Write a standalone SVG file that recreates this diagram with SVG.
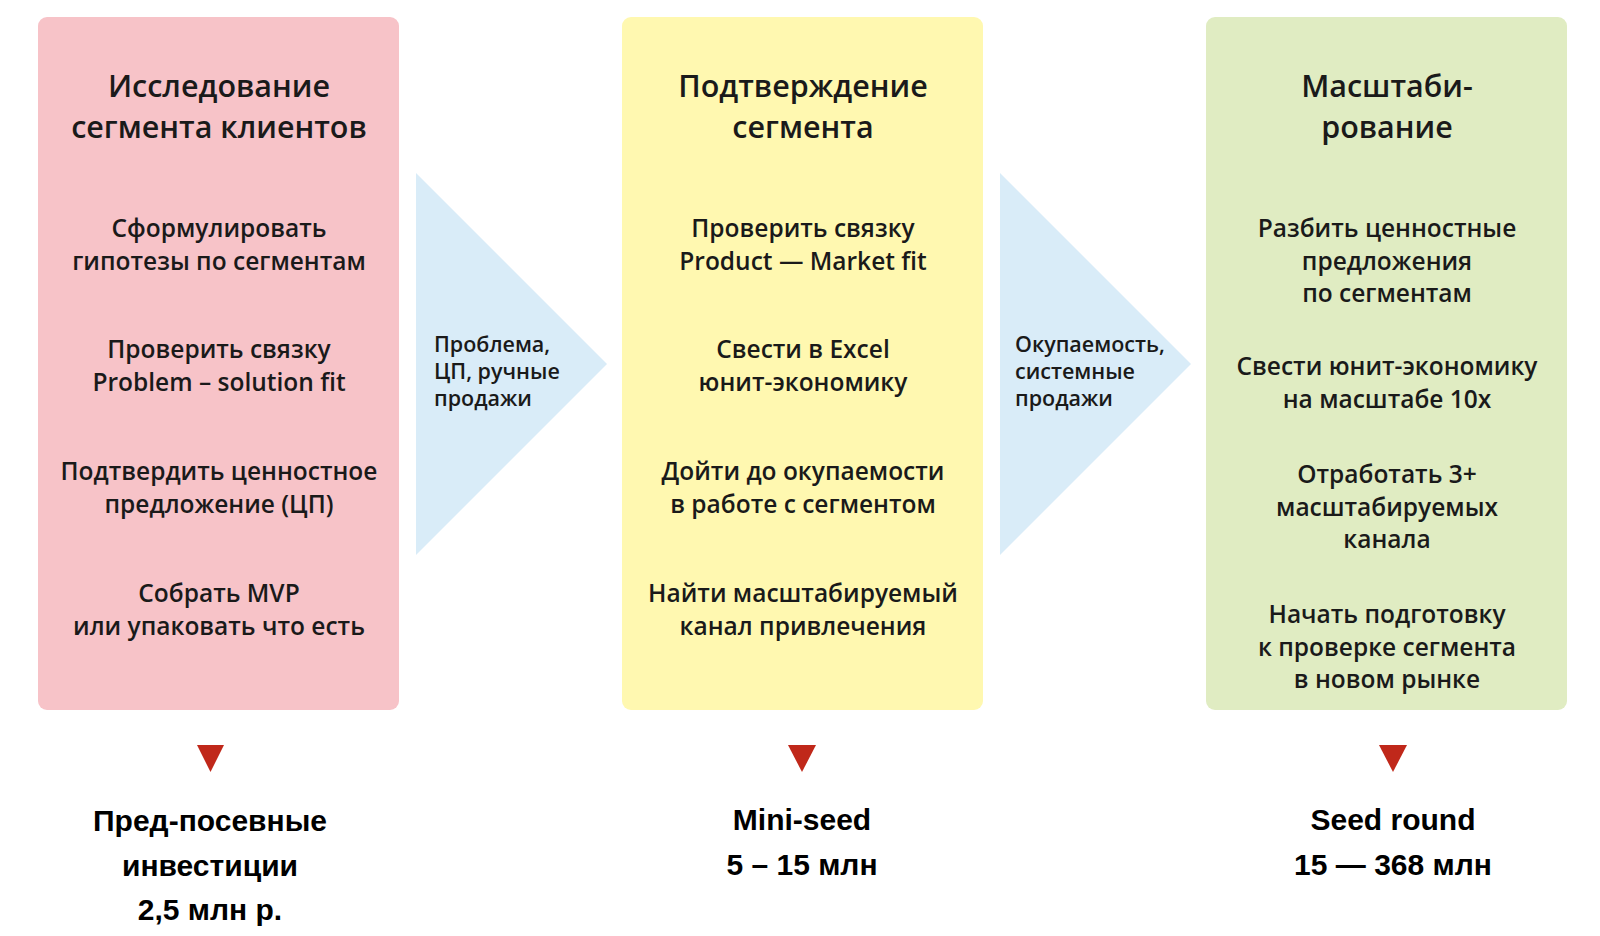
<svg xmlns="http://www.w3.org/2000/svg" width="1600" height="936" viewBox="0 0 1600 936">
<style>
.box{stroke:none}
.t{font-family:"Open Sans","Noto Sans","DejaVu Sans",sans-serif;font-weight:600;fill:#1a1a1a;text-anchor:middle}
.title{font-size:30.5px}
.item{font-size:24.5px}
.lbl{font-family:"Open Sans","Noto Sans","DejaVu Sans",sans-serif;font-weight:600;fill:#1a1a1a;font-size:21.5px}
.inv{font-family:"Liberation Sans",Arial,sans-serif;font-weight:bold;fill:#000;font-size:30px;text-anchor:middle}
.chev{fill:#D9ECF8}
.down{fill:#C0281A}
</style>
<rect width="1600" height="936" fill="#fff"/>
<g id="connectors">
<g id="arrow-1-2">
<polygon class="chev" points="416,173 607,364 416,555"/>
<text class="lbl" x="434"><tspan x="434" y="352">Проблема,</tspan><tspan x="434" y="379">ЦП, ручные</tspan><tspan x="434" y="406">продажи</tspan></text>
</g>
<g id="arrow-2-3">
<polygon class="chev" points="1000,173 1191,364 1000,555"/>
<text class="lbl" x="1015"><tspan x="1015" y="352">Окупаемость,</tspan><tspan x="1015" y="379">системные</tspan><tspan x="1015" y="406">продажи</tspan></text>
</g>
<polygon id="down-1" class="down" points="197,745 224,745 210.5,772"/>
<polygon id="down-2" class="down" points="788,745 816,745 802,772"/>
<polygon id="down-3" class="down" points="1379,745 1407,745 1393,772"/>
</g>
<g id="stage-research">
<rect class="box" x="38" y="17" width="361" height="693" rx="9" fill="#F7C3C8"/>
<text class="t title"><tspan x="219" y="97">Исследование</tspan><tspan x="219" y="138">сегмента клиентов</tspan></text>
<text class="t item"><tspan x="219" y="237">Сформулировать</tspan><tspan x="219" y="270">гипотезы по сегментам</tspan></text>
<text class="t item"><tspan x="219" y="358">Проверить связку</tspan><tspan x="219" y="391">Problem – solution fit</tspan></text>
<text class="t item"><tspan x="219" y="480">Подтвердить ценностное</tspan><tspan x="219" y="513">предложение (ЦП)</tspan></text>
<text class="t item"><tspan x="219" y="602">Собрать MVP</tspan><tspan x="219" y="635">или упаковать что есть</tspan></text>
</g>
<g id="stage-confirm">
<rect class="box" x="622" y="17" width="361" height="693" rx="9" fill="#FFF8B0"/>
<text class="t title"><tspan x="803" y="97">Подтверждение</tspan><tspan x="803" y="138">сегмента</tspan></text>
<text class="t item"><tspan x="803" y="237">Проверить связку</tspan><tspan x="803" y="270">Product — Market fit</tspan></text>
<text class="t item"><tspan x="803" y="358">Свести в Excel</tspan><tspan x="803" y="391">юнит-экономику</tspan></text>
<text class="t item"><tspan x="803" y="480">Дойти до окупаемости</tspan><tspan x="803" y="513">в работе с сегментом</tspan></text>
<text class="t item"><tspan x="803" y="602">Найти масштабируемый</tspan><tspan x="803" y="635">канал привлечения</tspan></text>
</g>
<g id="stage-scale">
<rect class="box" x="1206" y="17" width="361" height="693" rx="9" fill="#E0ECC2"/>
<text class="t title"><tspan x="1387" y="97">Масштаби-</tspan><tspan x="1387" y="138">рование</tspan></text>
<text class="t item"><tspan x="1387" y="237">Разбить ценностные</tspan><tspan x="1387" y="270">предложения</tspan><tspan x="1387" y="302">по сегментам</tspan></text>
<text class="t item"><tspan x="1387" y="375">Свести юнит-экономику</tspan><tspan x="1387" y="408">на масштабе 10x</tspan></text>
<text class="t item"><tspan x="1387" y="483">Отработать 3+</tspan><tspan x="1387" y="516">масштабируемых</tspan><tspan x="1387" y="548">канала</tspan></text>
<text class="t item"><tspan x="1387" y="623">Начать подготовку</tspan><tspan x="1387" y="656">к проверке сегмента</tspan><tspan x="1387" y="688">в новом рынке</tspan></text>
</g>
<g id="invest-preseed">
<text class="inv"><tspan x="210" y="831">Пред-посевные</tspan><tspan x="210" y="876">инвестиции</tspan><tspan x="210" y="920">2,5 млн р.</tspan></text>
</g>
<g id="invest-miniseed">
<text class="inv"><tspan x="802" y="830">Mini-seed</tspan><tspan x="802" y="875">5 – 15 млн</tspan></text>
</g>
<g id="invest-seed">
<text class="inv"><tspan x="1393" y="830">Seed round</tspan><tspan x="1393" y="875">15 — 368 млн</tspan></text>
</g>
</svg>
